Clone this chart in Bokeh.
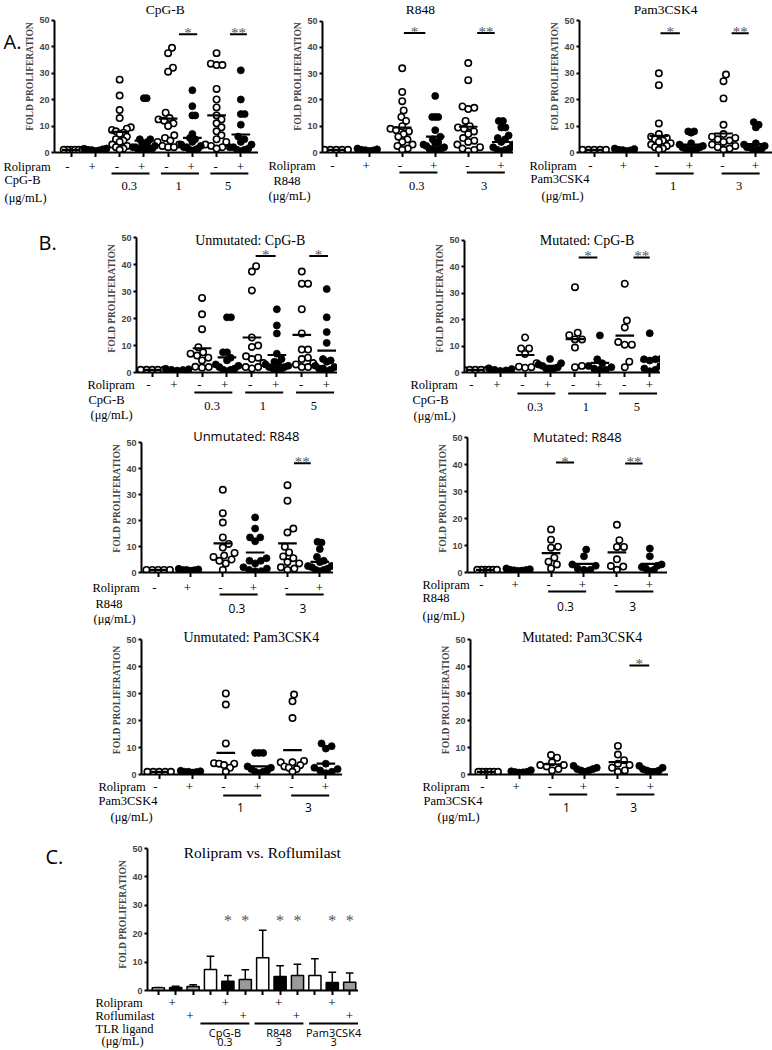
import math
from bokeh.plotting import figure
from bokeh.models import Range1d, FixedTicker, Spacer
from bokeh.layouts import row, column
from bokeh.embed import file_html
from bokeh.resources import INLINE
from bokeh.core.properties import value

# ---------------- data ----------------
signs6 = ["-", "+", "-", "+", "-", "+"]
signs8 = ["-", "+", "-", "+", "-", "+", "-", "+"]
cpg_doses = ["0.3", "1", "5"]
r848_doses = ["0.3", "3"]
pam_doses = ["1", "3"]

A1_values = [[1, 1, 1, 1, 1, 1], [0.6, 0.8, 1.0, 1.2, 1.4, 1.5, 0.9],
             [27.5, 21.5, 16, 13, 9.5, 9, 8.5, 8, 7.5, 7, 6, 5, 4.5, 4, 3, 2.5, 2, 1.5, 1],
             [20.5, 20.5, 5, 5, 4, 3.5, 3, 2.5, 2, 2, 1.5, 1.5, 1, 1, 0.8, 0.5],
             [39.5, 37.5, 32, 30.5, 15, 13, 12.5, 12, 11, 10, 6.5, 5.5, 4.5, 4, 3, 2.5, 2, 2],
             [23.5, 17.5, 14, 14, 7, 5.5, 5, 4, 3, 2.5, 2, 2, 1.5, 1, 1, 0.5],
             [37.5, 33.5, 33, 33, 24, 20, 17, 14, 12.5, 11, 9.5, 8, 6.5, 5, 4, 3, 2.5, 2, 1.5],
             [31, 20, 14.5, 14.5, 10.5, 6, 5, 4, 3, 2, 2, 1.5, 1, 1, 0.5]]
A1_means = [1.0, 1.0, 7.8, 4.5, 12.8, 5.5, 14.0, 6.8]

A2_values = [[1, 1, 1, 1, 1], [0.6, 0.8, 1.0, 1.2, 1.5, 0.9],
             [32, 23, 19.5, 16, 13.5, 12, 10, 9, 8.5, 8, 7, 6, 5, 4, 3, 2.5, 1.5, 1],
             [21.5, 13.5, 13.5, 13.5, 8.5, 6, 5, 4, 3.5, 3, 2.5, 2, 1.5, 1.5, 1, 1, 0.5],
             [34, 27.5, 17.5, 17, 16.5, 12, 10, 9.5, 9, 8, 7, 5.5, 4.5, 4, 3, 2, 1.5, 1, 0.5],
             [12, 12, 9.5, 9.5, 6.5, 5.5, 5, 4, 3, 2, 1.5, 1, 1, 0.5]]
A2_means = [1.0, 1.0, 9.5, 6.0, 9.8, 4.0]

A3_values = [[1, 1, 1, 1, 1], [0.6, 0.9, 1.0, 1.3, 1.5, 0.8],
             [30, 25.5, 11, 7, 6, 5.5, 5, 4.5, 4, 3.5, 3, 2.5, 2, 1.5, 1],
             [8, 8, 7.5, 3.5, 3, 2.5, 2, 2, 1.5, 1.5, 1, 1, 0.5],
             [29.5, 27, 20.5, 10.5, 7, 6, 5.5, 5, 4.5, 4, 3, 2.5, 2, 1.5, 1],
             [11.5, 10.5, 9.5, 3.5, 3, 2.5, 2, 2, 1.5, 1, 1, 0.5]]
A3_means = [1.0, 1.0, 6.3, 3.0, 7.2, 3.2]

B1U_values = [[1, 1, 1, 1, 1], [0.7, 1.0, 1.2, 1.4, 0.9],
              [27.7, 21.6, 16.1, 9.4, 7.5, 7, 6.3, 5.5, 4.5, 2.1, 2.0, 1.8],
              [20.5, 20.5, 7.5, 7.5, 5.5, 4.5, 3, 2.5, 2, 1.5, 1, 1, 0.5],
              [39.5, 37.5, 30.5, 13, 10, 9.5, 6, 5.5, 5, 3.5, 2, 2, 1.5],
              [23.5, 17.5, 14.5, 7, 5, 4, 3.5, 3, 2.5, 2, 2, 1.5, 1, 1],
              [37.5, 33, 33, 23.5, 14.5, 8.5, 8.5, 5.5, 5, 3.5, 3, 2, 2],
              [31, 20.5, 15, 11, 5, 4.5, 4, 2.5, 2, 1.5, 1.5, 1, 0.5]]
B1U_means = [1.0, 1.0, 9.0, 5.6, 13.0, 6.5, 14.0, 8.1]

B1M_values = [[1, 1, 1, 1, 1], [0.6, 0.8, 1.0, 1.3, 1.6],
              [13.2, 9.1, 9.1, 7.0, 3.5, 2.2, 2.0, 1.8],
              [5.1, 3.5, 3, 2.5, 2, 1.5, 1.5, 1],
              [32.2, 15, 14.1, 12.5, 12.5, 9.4, 2.5, 2],
              [14, 5, 3.5, 2.5, 2, 1.5, 1, 1],
              [33.5, 19.6, 17, 11.5, 10.5, 10.5, 4.1, 2],
              [14.8, 5.2, 5, 5, 4.5, 2.5, 1.5, 1, 0.5]]
B1M_means = [1.0, 1.0, 6.6, 2.5, 12.6, 3.6, 13.9, 4.5]

B2U_values = [[1, 1, 1, 1, 1], [0.7, 0.9, 1.0, 1.2, 1.4, 1.0],
              [31.8, 22.8, 19.2, 13.5, 11, 9.6, 7.5, 6.5, 6, 5, 4.5, 3.5, 1],
              [21.2, 16.9, 13.5, 13.5, 12, 5.5, 4.5, 4.5, 3.5, 2, 1.5, 1, 0.5, 0.5],
              [33.6, 27.6, 16.9, 15.4, 9.9, 7.7, 6.2, 5.5, 4, 3.5, 2, 1.5, 1],
              [11.8, 11.5, 9, 6, 4.5, 4, 2.5, 2.5, 2, 1.5, 1, 1, 0.5]]
B2U_means = [1.0, 1.0, 11.2, 7.7, 11.2, 4.1]

B2M_values = [[1, 1, 1, 1, 1, 1], [0.6, 0.8, 1.0, 1.2, 1.5, 0.9, 0.7],
              [16, 12.2, 9.6, 9.2, 5.5, 4.0, 3.0, 1.5],
              [8.5, 6, 3, 2.5, 1.5, 1, 1],
              [17.7, 12, 9.5, 9.5, 4.9, 2.4, 2.2, 1],
              [8.9, 6, 3, 2.5, 2, 1.5, 1, 0.5]]
B2M_means = [1.0, 1.0, 7.2, 3.2, 7.5, 3.2]

B3U_values = [[1, 1, 1, 1, 1], [0.7, 0.9, 1.0, 1.2, 1.4, 1.0],
              [30, 25.9, 11.5, 4.2, 4, 4, 3.5, 2.5, 1],
              [8, 8, 8, 3, 2.5, 2, 1.5, 1, 1, 0.5],
              [29.6, 27.1, 20.9, 5, 4.5, 4.5, 3.5, 3, 2.5, 2, 1],
              [11.5, 10.5, 9.6, 4, 2.5, 2, 1.5, 1, 0.5]]
B3U_means = [1.0, 1.0, 8.0, 3.0, 9.0, 4.0]

B3M_values = [[1, 1, 1, 1, 1, 1], [0.7, 0.9, 1.0, 1.2, 1.6, 0.8],
              [7.2, 6.2, 4.5, 3.5, 3.5, 3, 2, 1.5],
              [3.2, 2.5, 2, 2, 1.5, 1.5, 1],
              [10.6, 7.4, 5.3, 4, 3.5, 2.5, 1.5, 1],
              [3.2, 2.5, 2, 1.5, 1.5, 1, 1]]
B3M_means = [1.0, 1.0, 3.8, 2.0, 4.6, 1.8]

# significance marks: bar start/end (group units), bar height, label
A1_stars = [[5.45, 6.2, 44.6, "*"], [7.55, 8.25, 44.6, "**"]]
A2_stars = [[3.05, 3.7, 45.4, "*"], [5.27, 5.8, 45.4, "**"]]
A3_stars = [[3.05, 3.65, 45.2, "*"], [5.25, 5.78, 45.2, "**"]]
B1U_stars = [[5.15, 5.95, 43.3, "*"], [7.3, 8.05, 43.3, "*"]]
B1M_stars = [[5.15, 5.9, 43.4, "*"], [7.35, 8.0, 43.4, "**"]]
B2U_stars = [[5.2, 5.72, 42.0, "**"]]
B2M_stars = [[3.15, 3.7, 40.8, "*"], [5.25, 5.78, 40.5, "**"]]
B3U_stars = []
B3M_stars = [[5.35, 5.95, 40.4, "*"]]

# panel C: bar means and upper error (mean + SD)
C_means = [1.0, 1.1, 1.4, 7.4, 3.3, 3.9, 11.5, 4.9, 5.3, 5.3, 2.8, 2.9]
C_upper = [1.1, 1.5, 2.0, 12.1, 5.3, 7.3, 21.2, 8.7, 9.2, 11.2, 6.4, 6.2]
C_colors = ["white", "black", "#9a9a9a"] * 4
C_star_bars = [5, 6, 8, 9, 11, 12]
C_star_y = 27
C_rolipram_bars = [2, 5, 8, 11]
C_roflumilast_bars = [3, 6, 9, 12]
C_ligands = ["CpG-B", "R848", "Pam3CSK4"]
C_ligand_doses = ["0.3", "3", "3"]
C_ligand_centers = [4.97, 8.02, 11.1]

# ---------------- styling / layout helpers ----------------
SERIF = "Liberation Serif"
SANS = "Open Sans"
AXSANS = "Liberation Sans"
BB = 5
LBORDER = 28
PAGE_W = 772
PAGE_H = 1048

# row: (frame top, x-axis pixel row)
ROWS = {"A": (0, 152), "B1": (224, 372), "B2": (424, 572), "B3": (625, 774), "C": (838, 990)}


def swarm(vals, ppu, spx, d=7.2):
    order = sorted(range(len(vals)), key=lambda i: vals[i])
    xs = [0.0] * len(vals)
    placed = []
    for i in order:
        y = vals[i] * ppu
        cands = [0.0]
        for (px, py) in placed:
            dy = abs(py - y)
            if dy < d:
                dx = math.sqrt(d * d - dy * dy)
                cands += [px + dx, px - dx]
        cands.sort(key=abs)
        for c in cands:
            if all((c - px) ** 2 + (y - py) ** 2 >= d * d - 1e-6 for px, py in placed):
                xs[i] = c
                break
        placed.append((xs[i], y))
    m = max(abs(v) for v in xs)
    lim = min(12.0, 0.46 * spx)
    if m > lim:
        xs = [v * lim / m for v in xs]
    return [v / spx for v in xs]


def style_axes(p, n):
    ya = p.yaxis[0]
    ya.ticker = FixedTicker(ticks=[0, 10, 20, 30, 40, 50])
    ya.bounds = (0, 50)
    ya.axis_line_width = 2
    ya.major_tick_line_width = 2
    ya.major_tick_out = 3
    ya.major_tick_in = 0
    ya.minor_tick_line_color = None
    ya.major_label_text_font = AXSANS
    ya.major_label_text_font_size = "9px"
    ya.major_label_text_font_style = "bold"
    ya.major_label_standoff = 2
    ya.axis_label = "FOLD PROLIFERATION"
    ya.axis_label_text_font = SERIF
    ya.axis_label_text_font_size = "9.5px"
    ya.axis_label_text_font_style = "bold"
    ya.axis_label_standoff = 1
    xa = p.xaxis[0]
    xa.ticker = FixedTicker(ticks=list(range(1, n + 1)))
    xa.axis_line_width = 2
    xa.major_tick_line_width = 2
    xa.major_tick_out = 5
    xa.major_tick_in = 0
    xa.minor_tick_line_color = None
    xa.major_label_text_color = None
    xa.major_label_text_font_size = "1px"
    xa.major_label_standoff = 0
    p.grid.visible = False
    p.outline_line_color = None


def base_sub(spec):
    top, axis = ROWS[spec["row"]]
    PL = spec["a"]
    PR = spec["e"]
    W = PR - PL + LBORDER
    Hf = axis - top
    ppu = (axis - spec["t50"]) / 50.0
    xs = 1 - (spec["g1"] - spec["a"]) / spec["s"]
    xe = 1 + (spec["e"] - spec["g1"]) / spec["s"]
    spx = (PR - PL) / (xe - xs)
    p = figure(width=W, height=Hf + BB, x_range=Range1d(xs, xe), y_range=Range1d(0, Hf / ppu),
               min_border=0, min_border_left=LBORDER, min_border_bottom=BB, min_border_top=0,
               min_border_right=0, output_backend="svg", toolbar_location=None)
    style_axes(p, spec["n"])
    spec.update(PL=PL, PR=PR, xs=xs, xe=xe, spx=spx, ppu=ppu, left=PL - LBORDER, W=W)
    tx = 1 + (spec["tcx"] - spec["g1"]) / spec["s"]
    ty = (axis - spec["tcy"]) / ppu
    p.text(x=[tx], y=[ty], text=[spec["title"]], text_font=value(spec["tfont"]),
           text_font_size=spec["tsize"], text_align="center", text_baseline="middle", text_color="black")
    return p


def scatter_sub(spec):
    p = base_sub(spec)
    ox, oy, fx, fy = [], [], [], []
    for gi, vals in enumerate(spec["values"], start=1):
        offs = swarm(vals, spec["ppu"], spec["spx"])
        for v, o in zip(vals, offs):
            if gi % 2 == 1:
                ox.append(gi + o); oy.append(v)
            else:
                fx.append(gi + o); fy.append(v)
    p.scatter(ox, oy, marker="circle", size=6.4, fill_color="white", line_color="black", line_width=1.6)
    p.scatter(fx, fy, marker="circle", size=7.0, fill_color="black", line_color="black", line_width=0.8)
    hw = 9.5 / spec["spx"]
    g = list(range(1, len(spec["means"]) + 1))
    p.segment(x0=[k - hw for k in g], x1=[k + hw for k in g], y0=spec["means"], y1=spec["means"],
              line_color="black", line_width=2.2)
    if spec["stars"]:
        st = spec["stars"]
        p.segment(x0=[s[0] for s in st], x1=[s[1] for s in st], y0=[s[2] for s in st],
                  y1=[s[2] for s in st], line_color="black", line_width=2)
        p.text(x=[(s[0] + s[1]) / 2 for s in st], y=[s[2] + 1.0 / spec["ppu"] for s in st],
               text=[s[3] for s in st], text_font=value(SERIF), text_font_size="15px",
               text_align="center", text_baseline="alphabetic", text_color="#555555")
    return p


def bar_sub(spec):
    p = base_sub(spec)
    idx = list(range(1, len(C_means) + 1))
    p.segment(x0=idx, x1=idx, y0=C_means, y1=C_upper, line_color="black", line_width=1.5)
    p.segment(x0=[i - 0.22 for i in idx], x1=[i + 0.22 for i in idx], y0=C_upper, y1=C_upper,
              line_color="black", line_width=1.5)
    p.vbar(x=idx, top=C_means, bottom=0, width=0.7, fill_color=C_colors, line_color="black", line_width=1.5)
    ppu = spec["ppu"]
    p.text(x=C_star_bars, y=[C_star_y - 7.0 / ppu] * len(C_star_bars), text=["*"] * len(C_star_bars),
           text_font=value(SERIF), text_font_size="16px", text_align="center",
           text_baseline="alphabetic", text_color="#555555")
    return p


SUBS = [
    dict(key="A1", row="A", a=50, e=258, g1=67, s=24.71, t50=19.5, n=8, title="CpG-B", tfont=SERIF,
         tsize="13.5px", tcx=163, tcy=8.5, values=A1_values, means=A1_means, stars=A1_stars,
         yr=166, yl=173, yg=179, yd=185, yu=197, lx=[3, 4, 4], ligand="CpG-B", doses=cpg_doses,
         dgroups=[3, 5, 7], dfont=SERIF),
    dict(key="A2", row="A", a=318, e=513, g1=332, s=33.7, t50=20.5, n=6, title="R848", tfont=SERIF,
         tsize="13.5px", tcx=418, tcy=8.5, values=A2_values, means=A2_means, stars=A2_stars,
         yr=165, yl=172, yg=180, yd=185, yu=195, lx=[268, 273, 268], ligand="R848", doses=r848_doses,
         dgroups=[3, 5], dfont=SERIF),
    dict(key="A3", row="A", a=575, e=772, g1=590, s=33.0, t50=20, n=6, title="Pam3CSK4", tfont=SERIF,
         tsize="13.5px", tcx=663, tcy=8.5, values=A3_values, means=A3_means, stars=A3_stars,
         yr=165, yl=173, yg=178, yd=185, yu=195, lx=[529, 530, 541], ligand="Pam3CSK4", doses=pam_doses,
         dgroups=[3, 5], dfont=SERIF),
    dict(key="B1U", row="B1", a=132, e=337, g1=148, s=25.43, t50=237.4, n=8, title="Unmutated: CpG-B",
         tfont=SERIF, tsize="14px", tcx=248, tcy=240, values=B1U_values, means=B1U_means, stars=B1U_stars,
         yr=384, yl=392, yg=399, yd=405, yu=414, lx=[87, 88, 90], ligand="CpG-B", doses=cpg_doses,
         dgroups=[3, 5, 7], dfont=SERIF),
    dict(key="B1M", row="B1", a=460, e=660, g1=471, s=25.43, t50=239.5, n=8, title="Mutated: CpG-B",
         tfont=SERIF, tsize="14px", tcx=585, tcy=240, values=B1M_values, means=B1M_means, stars=B1M_stars,
         yr=384, yl=393, yg=399, yd=406, yu=415, lx=[410, 412, 413], ligand="CpG-B", doses=cpg_doses,
         dgroups=[3, 5, 7], dfont=SERIF),
    dict(key="B2U", row="B2", a=137, e=333, g1=154, s=33.0, t50=442, n=6, title="Unmutated: R848",
         tfont=SANS, tsize="13px", tcx=244, tcy=435.5, values=B2U_values, means=B2U_means, stars=B2U_stars,
         yr=587, yl=594, yg=603, yd=608, yu=618, lx=[92, 95, 93], ligand="R848", doses=r848_doses,
         dgroups=[3, 5], dfont=SANS),
    dict(key="B2M", row="B2", a=463, e=667, g1=481, s=33.6, t50=437.3, n=6, title="Mutated: R848",
         tfont=SANS, tsize="13px", tcx=575, tcy=436, values=B2M_values, means=B2M_means, stars=B2M_stars,
         yr=584, yl=591, yg=597, yd=606, yu=615, lx=[422, 422, 422], ligand="R848", doses=r848_doses,
         dgroups=[3, 5], dfont=SANS),
    dict(key="B3U", row="B3", a=137, e=342, g1=155, s=34.0, t50=639, n=6, title="Unmutated: Pam3CSK4",
         tfont=SERIF, tsize="14px", tcx=249, tcy=637, values=B3U_values, means=B3U_means, stars=B3U_stars,
         yr=786, yl=795, yg=800, yd=807, yu=816, lx=[98, 98, 110], ligand="Pam3CSK4", doses=pam_doses,
         dgroups=[3, 5], dfont=SANS),
    dict(key="B3M", row="B3", a=466, e=668, g1=482, s=33.6, t50=639, n=6, title="Mutated: Pam3CSK4",
         tfont=SERIF, tsize="14px", tcx=580, tcy=637, values=B3M_values, means=B3M_means, stars=B3M_stars,
         yr=786, yl=794, yg=800, yd=807, yu=816, lx=[422, 423, 437], ligand="Pam3CSK4", doses=pam_doses,
         dgroups=[3, 5], dfont=SANS),
]
CSPEC = dict(key="C", row="C", a=143, e=358, g1=154, s=17.73, t50=848, n=12,
             title="Rolipram vs. Roflumilast", tfont=SERIF, tsize="15.5px", tcx=260, tcy=852)

figs = {}
for sp in SUBS:
    figs[sp["key"]] = scatter_sub(sp)
figs["C"] = bar_sub(CSPEC)
SPEC = {sp["key"]: sp for sp in SUBS}
SPEC["C"] = CSPEC


def pixel_fig(w, h):
    p = figure(width=w, height=h, x_range=Range1d(0, w), y_range=Range1d(h, 0), min_border=0,
               x_axis_location=None, y_axis_location=None, output_backend="svg", toolbar_location=None)
    p.grid.visible = False
    p.outline_line_color = None
    return p


def add_range(p, sp):
    k = (sp["xe"] - sp["xs"]) / (sp["PR"] - sp["PL"])
    start = sp["xs"] - sp["PL"] * k
    p.extra_x_ranges[sp["key"]] = Range1d(start, start + PAGE_W * k)


def txt(p, xs, ys, texts, font, size, align="left", rn="default"):
    p.text(x=xs, y=ys, text=texts, text_font=value(font), text_font_size=size, text_align=align,
           text_baseline="middle", text_color="black", x_range_name=rn)


def make_strip(top, bottom, keys):
    H = bottom - top
    p = pixel_fig(PAGE_W, H)
    for key in keys:
        sp = SPEC[key]
        add_range(p, sp)
        n = sp["n"]
        signs = signs8 if n == 8 else signs6
        txt(p, list(range(1, n + 1)), [sp["yr"] - top] * n, signs, SERIF, "13px", "center", key)
        labels = ["Rolipram", sp["ligand"], "(\u03bcg/mL)"]
        ys = [sp["yr"], sp["yg"], sp["yu"]]
        txt(p, sp["lx"], [y - top for y in ys], labels, SERIF, "12.5px")
        hl = 19.0 / sp["s"]
        cs = [g + 0.55 for g in sp["dgroups"]]
        p.segment(x0=[c - hl for c in cs], x1=[c + hl for c in cs], y0=[sp["yl"] - top] * len(cs),
                  y1=[sp["yl"] - top] * len(cs), line_color="black", line_width=1.8, x_range_name=key)
        txt(p, [g + 0.5 for g in sp["dgroups"]], [sp["yd"] - top] * len(cs), sp["doses"], sp["dfont"],
            "12.5px" if sp["dfont"] == SERIF else "12px", "center", key)
    return p


def make_c_strip(top, bottom):
    H = bottom - top
    p = pixel_fig(PAGE_W, H)
    sp = CSPEC
    add_range(p, sp)
    txt(p, [95, 95, 95, 101], [y - top for y in [1002.5, 1015, 1028, 1040]],
        ["Rolipram", "Roflumilast", "TLR ligand", "(\u03bcg/mL)"], SERIF, "12.5px")
    txt(p, C_rolipram_bars, [1002.5 - top] * 4, ["+"] * 4, SERIF, "13px", "center", "C")
    txt(p, C_roflumilast_bars, [1015 - top] * 4, ["+"] * 4, SERIF, "13px", "center", "C")
    hl = 1.38
    p.segment(x0=[c - hl for c in C_ligand_centers], x1=[c + hl for c in C_ligand_centers],
              y0=[1023 - top] * 3, y1=[1023 - top] * 3, line_color="black", line_width=1.8,
              x_range_name="C")
    txt(p, C_ligand_centers, [1032 - top] * 3, C_ligands, SANS, "11px", "center", "C")
    txt(p, C_ligand_centers, [1041 - top] * 3, C_ligand_doses, SANS, "11px", "center", "C")
    return p


def letter_fig(w, h, top, text, px, py):
    p = pixel_fig(w, h)
    txt(p, [px], [py - top], [text], SANS, "20px")
    return p


def build_row(rowkey, keys, letter=None):
    top, axis = ROWS[rowkey]
    h = axis - top + BB
    children = []
    cur = 0
    first = True
    for key in keys:
        sp = SPEC[key]
        gap = sp["left"] - cur
        if gap > 0:
            if first and letter is not None:
                children.append(letter_fig(gap, h, top, *letter))
            else:
                children.append(Spacer(width=gap, height=h))
        first = False
        children.append(figs[key])
        cur = sp["left"] + sp["W"]
    if cur < PAGE_W:
        children.append(Spacer(width=PAGE_W - cur, height=h))
    return row(children)


rA = build_row("A", ["A1", "A2", "A3"], ("A.", 3, 42))
sA = make_strip(ROWS["A"][1] + BB, ROWS["B1"][0], ["A1", "A2", "A3"])
rB1 = build_row("B1", ["B1U", "B1M"], ("B.", 38, 243))
sB1 = make_strip(ROWS["B1"][1] + BB, ROWS["B2"][0], ["B1U", "B1M"])
rB2 = build_row("B2", ["B2U", "B2M"])
sB2 = make_strip(ROWS["B2"][1] + BB, ROWS["B3"][0], ["B2U", "B2M"])
rB3 = build_row("B3", ["B3U", "B3M"])
sB3 = make_strip(ROWS["B3"][1] + BB, ROWS["C"][0], ["B3U", "B3M"])
rC = build_row("C", ["C"], ("C.", 45, 857))
sC = make_c_strip(ROWS["C"][1] + BB, PAGE_H)

page = column(rA, sA, rB1, sB1, rB2, sB2, rB3, sB3, rC, sC)
open("out.html", "w").write(file_html(page, INLINE))
